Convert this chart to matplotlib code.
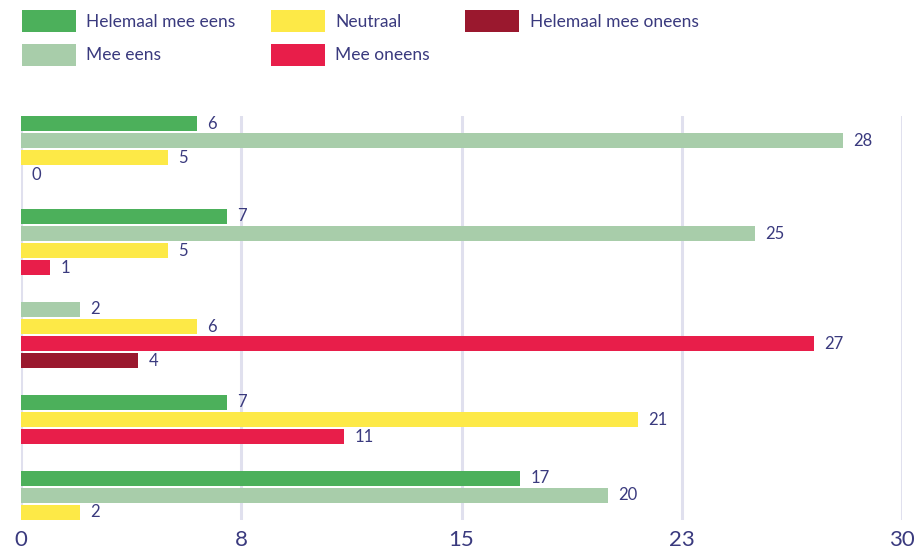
import matplotlib.pyplot as plt
from matplotlib.patches import Patch

categories = ["Helemaal mee eens", "Mee eens", "Neutraal", "Mee oneens", "Helemaal mee oneens"]
# one value per statement, None where the answer is not shown
helemaal_eens = [6, 7, None, 7, 17]
mee_eens = [28, 25, 2, None, 20]
neutraal = [5, 5, 6, 21, 2]
mee_oneens = [0, 1, 27, 11, None]
helemaal_oneens = [None, None, 4, None, None]
tick_values = [0, 7.5, 15, 22.5, 30]
tick_labels = ["0", "8", "15", "23", "30"]

series = [helemaal_eens, mee_eens, neutraal, mee_oneens, helemaal_oneens]
colors = ["#4CB05B", "#A8CDAA", "#FDE947", "#E81E4A", "#9A182E"]
text_color = "#3A3A7E"
grid_color = "#E0E0EE"

plt.rcParams["font.family"] = ["Lato", "DejaVu Sans"]

fig = plt.figure(figsize=(9.17, 5.51), dpi=100)
ax = fig.add_axes([21 / 917, 1 - 520 / 551, 881 / 917, 404 / 551])

bar_h = 15 / 17
group_gap = 24.5 / 17
y = 0.0
for g in range(len(neutraal)):
    for s, vals in enumerate(series):
        v = vals[g]
        if v is None:
            continue
        ax.barh(y, v, height=bar_h, color=colors[s], align="edge", zorder=3)
        ax.text(v + 0.35, y + bar_h / 2, str(v), va="center", ha="left",
                fontsize=12, color=text_color, zorder=4)
        y += 1
    y += group_gap
y_end = y - group_gap - (1 - bar_h)

ax.set_ylim(y_end, 0)
ax.set_xlim(0, 30)
ax.set_xticks(tick_values)
ax.set_xticklabels(tick_labels, fontsize=16, color=text_color)
ax.tick_params(axis="x", length=0, pad=7)
ax.set_yticks([])
ax.grid(axis="x", color=grid_color, linewidth=2.2, zorder=0)
for sp in ax.spines.values():
    sp.set_visible(False)

handles = [Patch(facecolor=c, edgecolor="none") for c in colors]
leg = fig.legend(handles, categories, loc="upper left", bbox_to_anchor=(15 / 917, 1 - 3 / 551),
                 ncol=3, frameon=False, fontsize=12.5, handlelength=3.1, handleheight=1.6,
                 handletextpad=0.6, columnspacing=2.05, labelspacing=0.65, borderaxespad=0)
for t in leg.get_texts():
    t.set_color(text_color)

fig.savefig("out.png", dpi=100)
